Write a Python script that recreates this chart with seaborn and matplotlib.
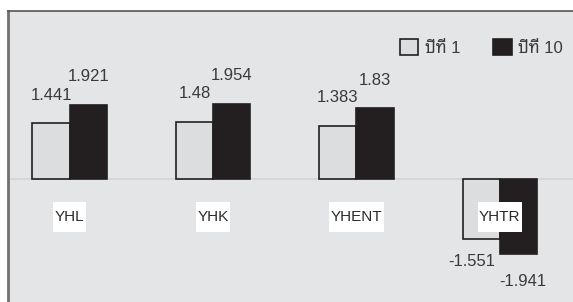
import matplotlib
matplotlib.use("Agg")
import matplotlib.pyplot as plt
from matplotlib import font_manager
from matplotlib.patches import Rectangle
import seaborn as sns
import pandas as pd

categories = ["YHL", "YHK", "YHENT", "YHTR"]
series_names = ["ปีที่ 1", "ปีที่ 10"]
year1 = [1.441, 1.48, 1.383, -1.551]
year10 = [1.921, 1.954, 1.83, -1.941]

available = {f.name for f in font_manager.fontManager.ttflist}
thai_pref = ["Noto Sans Thai Looped", "Sarabun", "Noto Sans Thai", "IBM Plex Sans Thai Looped",
             "IBM Plex Sans Thai", "Anuphan"]
thai_fonts = [f for f in thai_pref if f in available][:1]

sns.set_theme(style="white")
plt.rcParams["font.family"] = ["Liberation Sans"] + thai_fonts + ["DejaVu Sans"]

df = pd.DataFrame({
    "cat": categories * 2,
    "series": [series_names[0]] * 4 + [series_names[1]] * 4,
    "val": year1 + year10,
})

fig = plt.figure(figsize=(5.73, 3.02), dpi=100)
ax = fig.add_axes([8 / 573, 0, 565 / 573, 291 / 302])
ax.set_facecolor("#e4e5e7")
sns.barplot(data=df, x="cat", y="val", hue="series", order=categories,
            hue_order=series_names, palette=["#dcdddf", "#231f20"],
            width=0.52, ax=ax, edgecolor="#231f20", linewidth=1.2,
            saturation=1, legend=True)
ax.set_xlim(-0.43, 3.51)
ax.set_ylim(-3.2, 4.36)
ax.axhline(0, color="#d2d3d5", lw=1.2, zorder=0.5)

txt_color = "#3a3a3a"
neg_offsets = [(-7, -11), (3, -15)]
for si, c in enumerate(ax.containers):
    for bar, v in zip(c, c.datavalues):
        x = bar.get_x() + bar.get_width() / 2
        if v >= 0:
            ax.annotate(f"{v:g}", (x, v), xytext=(0, 15), textcoords="offset points",
                        ha="center", va="bottom", fontsize=12, color=txt_color)
        else:
            ax.annotate(f"{v:g}", (x, v), xytext=neg_offsets[si], textcoords="offset points",
                        ha="center", va="top", fontsize=12, color=txt_color)

ax.set_xticks([])
ax.set_yticks([])
ax.set_xlabel("")
ax.set_ylabel("")
cat_texts = []
for i, cat in enumerate(categories):
    t = ax.text(i, -0.99, cat, ha="center", va="center", fontsize=11, color="#2a2a2a", zorder=6)
    cat_texts.append(t)

for s in ["right", "bottom"]:
    ax.spines[s].set_visible(False)
ax.spines["left"].set_color("#707070")
ax.spines["left"].set_linewidth(2)
ax.spines["top"].set_color("#555555")
ax.spines["top"].set_linewidth(1.2)

leg = ax.legend(loc="upper right", ncol=2, frameon=False, fontsize=12,
                bbox_to_anchor=(1.009, 0.955), handlelength=1.1, handleheight=1.1,
                columnspacing=2.0, handletextpad=0.4, labelcolor=txt_color)

# white boxes behind category labels
fig.canvas.draw()
r = fig.canvas.get_renderer()
inv = ax.transData.inverted()
for t in cat_texts:
    bb = t.get_window_extent(r)
    x0, y0 = inv.transform((bb.x0 - 1.5, (bb.y0 + bb.y1) / 2 - 15))
    x1, y1 = inv.transform((bb.x1 + 1.5, (bb.y0 + bb.y1) / 2 + 15))
    ax.add_patch(Rectangle((x0, y0), x1 - x0, y1 - y0, facecolor="white",
                           edgecolor="none", zorder=5))

fig.savefig("out.png", dpi=100, facecolor="white")
